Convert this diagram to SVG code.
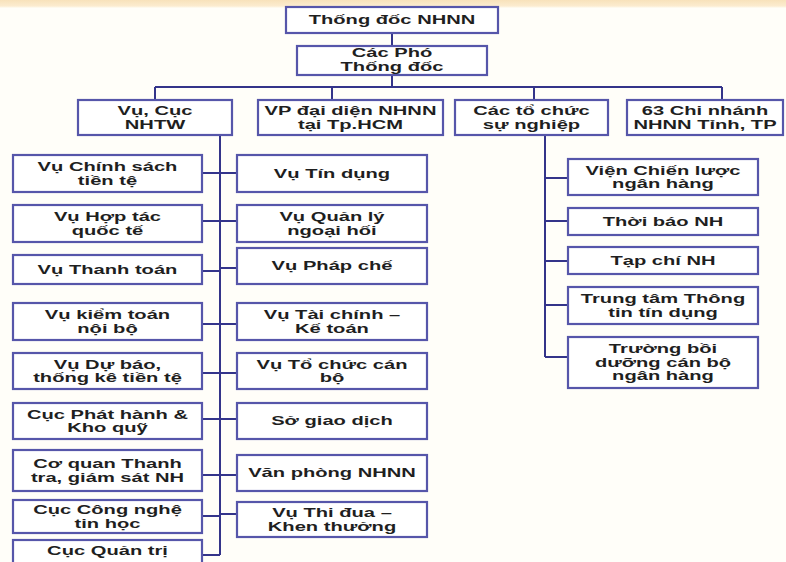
<svg xmlns="http://www.w3.org/2000/svg" width="786" height="562" viewBox="0 0 786 562">
<defs>
<linearGradient id="band" x1="0" y1="0" x2="0" y2="1">
<stop offset="0" stop-color="#f8e2bb"/>
<stop offset="0.75" stop-color="#fcecd0"/>
<stop offset="1" stop-color="#fffdf6"/>
</linearGradient>
<style>
.box{fill:#ffffff;stroke:#5656aa;stroke-width:2.2}
.t{font-family:"Liberation Sans",Arial,sans-serif;font-weight:bold;font-size:13px;fill:#1f1f1f;text-anchor:middle}
.ln{fill:none;stroke:#34348a;stroke-width:2}
</style>
</defs>
<rect x="0" y="0" width="786" height="562" fill="#fffef9"/>
<rect x="0" y="0" width="786" height="8" fill="url(#band)"/>

<g id="connectors" class="ln">
<path d="M392 33V46M392 75V87M155 87H722M155 87V100M332 87V100M534 87V100M722 87V100"/>
<path d="M220 135V555"/>
<path d="M202 173H237M202 221H237M202 271H220M220 268H237M202 324H237M202 373H237M202 419H237M202 475H237M202 516H220M220 514H237M202 555H220"/>
<path d="M545 135V357M545 178H568M545 221H568M545 261H568M545 305H568M545 357H568"/>
</g>

<g id="n-thongdoc"><rect class="box" x="286" y="7" width="212" height="26"/><text class="t" transform="translate(392 0) scale(1.55 1)" y="24.5">Thống đốc NHNN</text></g>
<g id="n-pho"><rect class="box" x="297" y="46" width="190" height="29"/><text class="t" transform="translate(392 0) scale(1.55 1)"><tspan x="0" y="57.5">Các Phó</tspan><tspan x="0" y="71">Thống đốc</tspan></text></g>

<g id="n-vucuc"><rect class="box" x="78" y="100" width="154" height="35"/><text class="t" transform="translate(155 0) scale(1.55 1)"><tspan x="0" y="115.25">Vụ, Cục</tspan><tspan x="0" y="128.75">NHTW</tspan></text></g>
<g id="n-vp"><rect class="box" x="258" y="100" width="185" height="35"/><text class="t" transform="translate(350.5 0) scale(1.55 1)"><tspan x="0" y="115.25">VP đại diện NHNN</tspan><tspan x="0" y="128.75">tại Tp.HCM</tspan></text></g>
<g id="n-tochuc"><rect class="box" x="455" y="100" width="153" height="35"/><text class="t" transform="translate(531.5 0) scale(1.55 1)"><tspan x="0" y="115.25">Các tổ chức</tspan><tspan x="0" y="128.75">sự nghiệp</tspan></text></g>
<g id="n-chinhanh"><rect class="box" x="627" y="100" width="156" height="35"/><text class="t" transform="translate(705 0) scale(1.55 1)"><tspan x="0" y="115.25">63 Chi nhánh</tspan><tspan x="0" y="128.75">NHNN Tỉnh, TP</tspan></text></g>

<g id="n-l1"><rect class="box" x="13" y="155" width="189" height="37"/><text class="t" transform="translate(107.5 0) scale(1.55 1)"><tspan x="0" y="171.25">Vụ Chính sách</tspan><tspan x="0" y="184.75">tiền tệ</tspan></text></g>
<g id="n-l2"><rect class="box" x="13" y="205" width="189" height="37"/><text class="t" transform="translate(107.5 0) scale(1.55 1)"><tspan x="0" y="221.25">Vụ Hợp tác</tspan><tspan x="0" y="234.75">quốc tế</tspan></text></g>
<g id="n-l3"><rect class="box" x="13" y="255" width="189" height="29"/><text class="t" transform="translate(107.5 0) scale(1.55 1)" y="274">Vụ Thanh toán</text></g>
<g id="n-l4"><rect class="box" x="13" y="303" width="189" height="37"/><text class="t" transform="translate(107.5 0) scale(1.55 1)"><tspan x="0" y="319.25">Vụ kiểm toán</tspan><tspan x="0" y="332.75">nội bộ</tspan></text></g>
<g id="n-l5"><rect class="box" x="13" y="353" width="189" height="36"/><text class="t" transform="translate(107.5 0) scale(1.55 1)"><tspan x="0" y="368.75">Vụ Dự báo,</tspan><tspan x="0" y="382.25">thống kê tiền tệ</tspan></text></g>
<g id="n-l6"><rect class="box" x="13" y="403" width="189" height="36"/><text class="t" transform="translate(107.5 0) scale(1.55 1)"><tspan x="0" y="418.75">Cục Phát hành &amp;</tspan><tspan x="0" y="432.25">Kho quỹ</tspan></text></g>
<g id="n-l7"><rect class="box" x="13" y="450" width="189" height="41"/><text class="t" transform="translate(107.5 0) scale(1.55 1)"><tspan x="0" y="468.25">Cơ quan Thanh</tspan><tspan x="0" y="481.75">tra, giám sát NH</tspan></text></g>
<g id="n-l8"><rect class="box" x="13" y="500" width="189" height="33"/><text class="t" transform="translate(107.5 0) scale(1.55 1)"><tspan x="0" y="514.25">Cục Công nghệ</tspan><tspan x="0" y="527.75">tin học</tspan></text></g>
<g id="n-l9"><rect class="box" x="13" y="540" width="189" height="40"/><text class="t" transform="translate(107.5 0) scale(1.55 1)" y="555">Cục Quản trị</text></g>

<g id="n-m1"><rect class="box" x="237" y="155" width="190" height="37"/><text class="t" transform="translate(332 0) scale(1.55 1)" y="178">Vụ Tín dụng</text></g>
<g id="n-m2"><rect class="box" x="237" y="205" width="190" height="37"/><text class="t" transform="translate(332 0) scale(1.55 1)"><tspan x="0" y="221.25">Vụ Quản lý</tspan><tspan x="0" y="234.75">ngoại hối</tspan></text></g>
<g id="n-m3"><rect class="box" x="237" y="248" width="190" height="36"/><text class="t" transform="translate(332 0) scale(1.55 1)" y="270.5">Vụ Pháp chế</text></g>
<g id="n-m4"><rect class="box" x="237" y="303" width="190" height="37"/><text class="t" transform="translate(332 0) scale(1.55 1)"><tspan x="0" y="319.25">Vụ Tài chính –</tspan><tspan x="0" y="332.75">Kế toán</tspan></text></g>
<g id="n-m5"><rect class="box" x="237" y="353" width="190" height="36"/><text class="t" transform="translate(332 0) scale(1.55 1)"><tspan x="0" y="368.75">Vụ Tổ chức cán</tspan><tspan x="0" y="382.25">bộ</tspan></text></g>
<g id="n-m6"><rect class="box" x="237" y="403" width="190" height="36"/><text class="t" transform="translate(332 0) scale(1.55 1)" y="425.5">Sở giao dịch</text></g>
<g id="n-m7"><rect class="box" x="237" y="455" width="190" height="36"/><text class="t" transform="translate(332 0) scale(1.55 1)" y="477.5">Văn phòng NHNN</text></g>
<g id="n-m8"><rect class="box" x="237" y="502" width="190" height="35"/><text class="t" transform="translate(332 0) scale(1.55 1)"><tspan x="0" y="517.25">Vụ Thi đua –</tspan><tspan x="0" y="530.75">Khen thưởng</tspan></text></g>

<g id="n-r1"><rect class="box" x="568" y="159" width="190" height="36"/><text class="t" transform="translate(663 0) scale(1.55 1)"><tspan x="0" y="174.75">Viện Chiến lược</tspan><tspan x="0" y="188.25">ngân hàng</tspan></text></g>
<g id="n-r2"><rect class="box" x="568" y="208" width="190" height="27"/><text class="t" transform="translate(663 0) scale(1.55 1)" y="226">Thời báo NH</text></g>
<g id="n-r3"><rect class="box" x="568" y="247" width="190" height="27"/><text class="t" transform="translate(663 0) scale(1.55 1)" y="265">Tạp chí NH</text></g>
<g id="n-r4"><rect class="box" x="568" y="287" width="190" height="37"/><text class="t" transform="translate(663 0) scale(1.55 1)"><tspan x="0" y="303.25">Trung tâm Thông</tspan><tspan x="0" y="316.75">tin tín dụng</tspan></text></g>
<g id="n-r5"><rect class="box" x="568" y="337" width="190" height="51"/><text class="t" transform="translate(663 0) scale(1.55 1)"><tspan x="0" y="353.5">Trường bồi</tspan><tspan x="0" y="367">dưỡng cán bộ</tspan><tspan x="0" y="380.5">ngân hàng</tspan></text></g>
</svg>
